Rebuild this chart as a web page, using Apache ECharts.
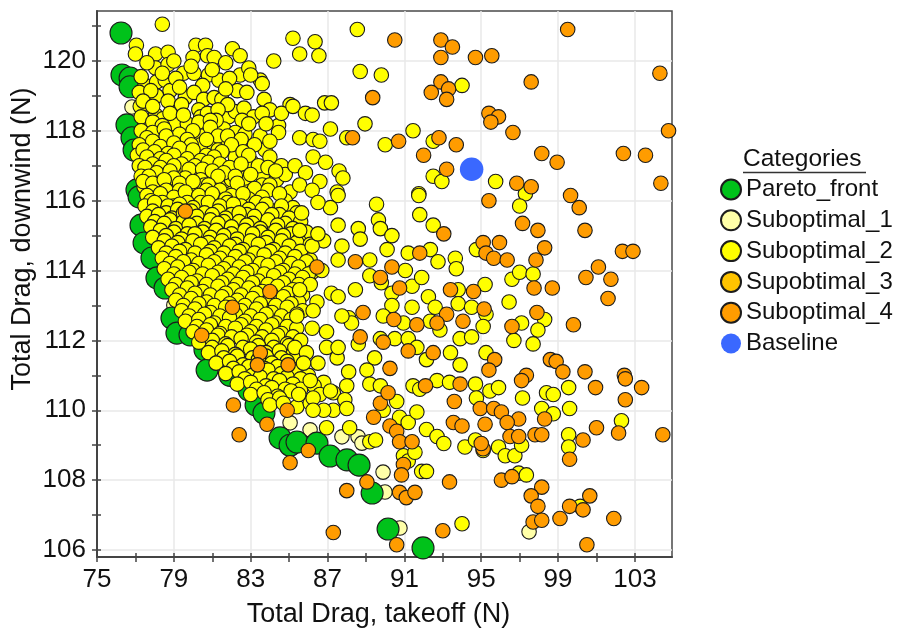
<!DOCTYPE html>
<html>
<head>
<meta charset="utf-8">
<script src="https://cdn.jsdelivr.net/npm/echarts@6/dist/echarts.min.js"></script>
<style>
  html, body { margin: 0; padding: 0; background: #fff; }
  #chart { width: 897px; height: 630px; }
</style>
</head>
<body>
<div id="chart"></div>
<script>
// Axis ticks and labels
const xTickValues = [75, 77, 79, 81, 83, 85, 87, 89, 91, 93, 95, 97, 99, 101, 103];
const xLabelValues = [75, 79, 83, 87, 91, 95, 99, 103];
const yTickValues = [106, 107, 108, 109, 110, 111, 112, 113, 114, 115, 116, 117, 118, 119, 120, 121];
const yLabelValues = [106, 108, 110, 112, 114, 116, 118, 120];

const xTitle = 'Total Drag, takeoff (N)';
const yTitle = 'Total Drag, downwind (N)';
const legendTitle = 'Categories';

// Legend order
const categories = ['Pareto_front', 'Suboptimal_1', 'Suboptimal_2', 'Supobtimal_3', 'Suboptimal_4', 'Baseline'];

// [takeoff drag, downwind drag]
const paretoFront = [
  [76.25,120.8],[76.3,119.6],[76.72,119.51],[76.72,119.26],[76.56,118.17],[76.82,117.8],[76.93,117.45],
  [77.08,116.31],[77.19,116.11],[77.29,115.3],[77.45,114.79],[77.86,114.36],[78.12,113.79],[78.54,113.5],
  [78.9,112.64],[79.16,112.21],[79.84,112.16],[80.62,111.73],[80.73,111.15],[81.92,111.0],[82.91,110.58],
  [83.28,110.15],[83.69,109.92],[84.53,109.21],[85.05,109.0],[85.41,109.09],[86.45,109.06],[87.13,108.69],
  [88.01,108.58],[88.64,108.43],[89.32,107.63],[90.15,106.6],[91.97,106.06]
];

const suboptimal1 = [
  [76.82,118.68],[76.93,118.11],[79.0,113.01],[79.53,112.24],[80.83,111.87],[82.13,111.3],[83.59,110.44],
  [85.05,109.64],[86.09,109.44],[87.75,109.24],[88.59,109.24],[88.79,109.06],[89.89,108.23],[89.99,107.66],
  [90.41,106.63],[90.77,106.63],[97.49,106.52]
];

const suboptimal2 = [
  // upper-left cloud
  [78.4,121.05],[77.05,120.45],[77.0,120.2],[78.05,120.2],[78.7,120.25],[80.15,120.45],[80.65,120.45],
  [80.0,120.1],[80.75,120.15],[81.1,120.1],[82.05,120.35],[82.45,120.15],[84.2,120.0],[78.05,119.8],
  [78.7,119.9],[79.5,119.65],[80.05,119.65],[80.8,119.6],[81.35,119.45],[80.5,119.3],[82.45,119.6],
  [83.5,119.45],[83.6,119.35],[82.3,119.15],[77.5,119.3],[78.1,119.4],[78.55,119.45],[78.8,119.15],
  [78.1,119.0],[77.25,118.7],[78.05,118.45],[78.45,118.35],[79.15,118.6],[79.6,118.95],[80.05,119.1],
  [80.55,118.9],[81.1,118.95],[81.5,118.9],[80.3,118.6],[80.4,118.4],[80.75,118.5],[81.85,118.4],
  [82.2,118.55],[82.65,118.65],[83.15,118.4],[82.55,118.3],[81.6,118.05],[82.2,117.95],[82.7,117.9],
  [83.5,117.85],[84.45,118.15],[84.45,117.95],[85.05,118.75],[79.0,118.2],[79.7,118.2],[77.6,118.15],
  [77.5,117.85],[77.75,117.55],[78.65,117.7],[79.4,117.8],[80.4,117.85],[81.0,117.55],[81.6,117.65],
  [79.7,117.45],[80.2,117.3],[79.1,117.15],[78.2,117.25],[77.6,117.1],[82.2,117.25],[82.65,116.9],
  [83.05,117.1],[83.75,117.45],[84.0,117.25],[83.6,116.7],[84.35,116.6],[82.65,116.45],[81.95,116.3],
  [81.6,116.55],[80.75,116.75],[80.05,116.8],[79.15,116.8],[78.4,116.75],[77.75,116.9],[77.45,116.4],
  [78.1,116.4],[78.75,116.45],[79.75,116.45],[80.45,116.35],[81.1,116.5],[85.05,116.25],
  [77.6,119.95],[79.0,120.0],[79.9,119.85],[81.7,119.95],[82.9,119.8],
  [77.3,119.55],[78.4,119.65],[79.1,119.5],[81.0,119.75],[81.9,119.5],[83.0,119.6],
  [77.2,119.1],[77.8,119.15],[79.3,119.25],[81.7,119.2],[82.8,119.1],
  [77.4,118.85],[77.9,118.7],[78.7,118.85],[79.4,118.75],[81.8,118.75],[83.7,118.9],[84.0,118.6],
  [77.3,118.4],[78.8,118.5],[79.5,118.45],[81.3,118.6],[81.2,118.3],[83.6,118.5],[84.6,118.5],
  [77.9,118.25],[78.4,118.15],[80.3,118.25],[80.9,118.3],[82.9,118.2],[83.8,118.2],
  // dense core
  [77.3,118.0],[77.9,117.95],[78.5,118.05],[79.3,117.9],[80.0,118.0],[80.9,118.1],[81.3,117.85],
  [77.6,117.8],[78.6,117.85],[79.7,117.75],[80.4,117.6],[81.8,117.85],[82.5,117.75],[83.2,117.6],[84.0,117.7],
  [77.2,117.6],[77.9,117.7],[78.3,117.55],[79.0,117.65],[79.9,117.6],[80.7,117.75],[81.3,117.45],[82.0,117.6],
  [77.1,117.3],[77.4,117.45],[78.0,117.4],[78.7,117.35],[79.3,117.5],[80.0,117.45],[80.7,117.3],[81.5,117.4],[82.6,117.4],
  [77.6,117.25],[78.3,117.2],[79.0,117.3],[79.7,117.2],[80.4,117.15],[81.1,117.25],[82.9,117.3],[83.4,117.0],[84.6,117.0],
  [77.2,117.0],[77.9,117.05],[78.6,117.15],[79.4,117.05],[80.1,117.0],[80.8,117.1],[81.4,117.05],[81.9,116.95],[82.5,117.05],
  [77.5,116.95],[78.3,116.95],[79.0,117.0],[79.8,116.9],[80.5,116.9],[82.0,116.6],[82.7,116.65],[83.9,116.95],[84.8,116.75],
  [77.3,116.7],[78.1,116.8],[78.8,116.85],[79.6,116.65],[80.4,116.6],[81.0,116.85],[81.6,116.8],[82.2,116.7],[83.0,116.75],
  [77.7,116.7],[78.4,116.55],[79.0,116.65],[79.9,116.35],[80.6,116.45],[81.3,116.7],[83.6,116.45],[84.3,116.85],
  [77.4,116.55],[77.9,116.5],[78.5,116.6],[79.3,116.5],[80.0,116.55],[80.8,116.45],[81.4,116.3],[82.3,116.5],[83.2,116.35],[84.0,116.45],
  [77.9,116.25],[78.6,116.3],[79.3,116.3],[80.0,116.0],[80.7,116.3],[81.2,116.05],[82.0,116.15],[82.9,116.05],[83.9,116.3],[84.8,116.0],
  [77.6,116.15],[78.3,116.2],[79.0,116.1],[79.6,116.25],[80.3,116.15],[81.0,116.2],[81.7,116.05],[82.6,116.2],[83.6,116.1],[84.5,116.2],
  [77.8,116.0],[78.4,115.95],[79.0,115.85],[79.7,115.95],[80.4,115.95],[81.1,115.8],[81.8,115.95],[82.5,115.85],[83.3,115.95],[84.2,115.7],[85.2,115.8],
  [77.5,115.85],[78.0,115.95],[78.7,115.85],[79.3,115.9],[80.0,115.8],[80.8,115.95],[81.4,115.85],[82.1,115.9],[82.9,115.75],[83.8,115.9],[84.6,115.85],
  [77.9,115.7],[78.6,115.65],[79.2,115.75],[79.9,115.7],[80.6,115.65],[81.3,115.7],[82.0,115.6],[82.8,115.6],[83.6,115.75],[84.5,115.6],[85.4,115.65],
  [77.6,115.55],[78.2,115.6],[78.9,115.5],[79.5,115.65],[80.2,115.55],[81.0,115.6],[81.7,115.5],[82.4,115.65],[83.2,115.55],[84.1,115.6],[85.0,115.5],
  [78.0,115.4],[78.8,115.45],[79.5,115.4],[80.2,115.35],[80.9,115.45],[81.6,115.4],[82.4,115.4],[83.1,115.35],[83.9,115.45],[84.8,115.35],[85.6,115.4],
  [77.8,115.25],[78.5,115.35],[79.1,115.2],[79.8,115.3],[80.6,115.2],[81.3,115.35],[82.0,115.25],[82.8,115.3],[83.5,115.2],[84.4,115.3],[85.2,115.2],
  [78.3,115.15],[79.0,115.1],[79.7,115.05],[80.5,115.1],[81.2,115.15],[82.0,115.05],[82.7,115.15],[83.5,115.1],[84.3,115.15],[85.1,115.05],[85.9,115.1],
  [77.9,114.95],[78.6,115.0],[79.4,114.9],[80.1,115.05],[80.9,114.95],[81.6,115.0],[82.3,114.9],[83.1,115.05],[83.9,114.95],[84.7,115.0],[85.5,114.85],
  [78.5,114.85],[79.2,114.8],[80.0,114.85],[80.8,114.8],[81.5,114.85],[82.2,114.75],[83.0,114.85],[83.8,114.8],[84.6,114.85],[85.4,114.8],[86.1,114.75],
  [78.2,114.65],[78.9,114.7],[79.6,114.6],[80.4,114.75],[81.1,114.65],[81.9,114.7],[82.6,114.6],[83.4,114.75],[84.2,114.6],[85.0,114.7],[85.8,114.5],
  [78.6,114.5],[79.3,114.55],[80.1,114.5],[80.9,114.55],[81.6,114.5],[82.4,114.55],[83.2,114.5],[84.0,114.55],[84.8,114.5],[85.6,114.55],
  [78.4,114.35],[79.1,114.4],[79.9,114.3],[80.7,114.45],[81.4,114.35],[82.2,114.4],[82.9,114.3],[83.7,114.45],[84.5,114.35],[85.3,114.4],[86.1,114.3],
  [78.8,114.2],[79.5,114.25],[80.3,114.2],[81.1,114.25],[81.9,114.2],[82.7,114.25],[83.5,114.2],[84.3,114.25],[85.1,114.2],[85.9,114.25],
  [78.5,114.05],[79.2,114.1],[80.0,114.0],[80.8,114.15],[81.6,114.05],[82.4,114.1],[83.1,114.0],[83.9,114.15],[84.7,114.0],[85.5,114.1],[86.2,113.95],
  [79.0,113.9],[79.8,113.95],[80.5,113.9],[81.3,113.95],[82.1,113.9],[82.8,113.95],[83.7,113.9],[84.5,113.95],[85.3,113.9],[86.0,113.9],
  [78.7,113.75],[79.4,113.8],[80.2,113.7],[81.0,113.85],[81.8,113.75],[82.6,113.8],[83.4,113.7],[84.2,113.85],[85.0,113.75],[85.7,113.8],
  [79.1,113.6],[79.9,113.65],[80.7,113.6],[81.5,113.65],[82.3,113.6],[83.1,113.65],[83.9,113.6],[84.7,113.65],[85.5,113.6],
  [78.9,113.45],[79.7,113.5],[80.5,113.4],[81.3,113.55],[82.1,113.45],[82.9,113.5],[83.6,113.4],[84.4,113.55],[85.2,113.45],
  [79.3,113.3],[80.1,113.35],[80.9,113.3],[81.7,113.35],[82.5,113.3],[83.3,113.35],[84.1,113.3],[84.9,113.35],[85.7,113.3],
  [79.1,113.15],[79.9,113.2],[80.7,113.1],[81.5,113.25],[82.3,113.15],[83.1,113.2],[83.9,113.1],[84.7,113.25],[85.5,113.1],
  [79.5,113.0],[80.3,113.05],[81.1,113.0],[81.9,113.05],[82.7,113.0],[83.5,113.05],[84.3,113.0],[85.1,113.05],
  [79.4,112.85],[80.1,112.9],[80.9,112.8],[81.7,112.95],[82.5,112.85],[83.3,112.9],[84.1,112.8],[84.9,112.95],[85.7,112.85],
  [79.8,112.7],[80.6,112.75],[81.4,112.7],[82.2,112.75],[83.0,112.7],[83.8,112.75],[84.6,112.7],[85.4,112.75],
  [79.6,112.55],[80.3,112.6],[81.1,112.5],[81.9,112.65],[82.7,112.55],[83.5,112.6],[84.3,112.5],[85.1,112.6],
  [80.2,112.4],[80.9,112.45],[81.7,112.4],[82.5,112.45],[83.3,112.4],[84.1,112.45],[84.9,112.4],
  [80.0,112.25],[80.7,112.3],[81.4,112.2],[82.2,112.35],[83.0,112.25],[83.8,112.3],[84.6,112.2],[85.4,112.35],
  [80.5,112.1],[81.3,112.15],[82.0,112.1],[82.8,112.15],[83.6,112.1],[84.4,112.15],[85.2,112.1],
  [80.3,111.95],[81.0,112.0],[81.7,111.9],[82.5,112.05],[83.3,111.95],[84.1,112.0],[84.9,111.9],[85.6,112.0],
  [81.0,111.8],[81.8,111.85],[82.6,111.8],[83.4,111.85],[84.2,111.8],[85.0,111.85],
  [80.8,111.65],[81.5,111.7],[82.2,111.6],[83.0,111.75],[83.8,111.65],[84.5,111.7],[85.2,111.6],
  [81.6,111.5],[82.3,111.55],[83.1,111.5],[83.8,111.55],[84.6,111.5],[85.4,111.55],
  [81.2,111.35],[81.9,111.4],[82.6,111.3],[83.4,111.45],[84.1,111.35],[84.9,111.4],
  [82.1,111.2],[82.9,111.25],[83.7,111.2],[84.4,111.25],[85.1,111.2],
  [81.7,111.05],[82.4,111.1],[83.1,111.0],[83.9,111.15],[84.6,111.05],[85.3,111.1],[86.0,111.0],
  [82.7,110.9],[83.5,110.95],[84.2,110.9],[84.9,110.95],[85.6,110.9],
  [82.3,110.75],[83.0,110.8],[83.8,110.7],[84.5,110.85],[85.2,110.75],[86.8,110.8],
  [83.3,110.6],[84.1,110.65],[84.8,110.6],[85.6,110.6],[86.3,110.7],
  [83.0,110.45],[83.7,110.5],[84.4,110.4],[85.1,110.55],[86.6,110.45],[87.3,110.5],
  [83.9,110.3],[84.5,110.35],
  [84.0,110.15],[84.7,110.2],[85.4,110.1],[86.1,110.2],
  // middle band
  [85.2,120.65],[85.55,120.2],[86.35,120.55],[86.55,120.15],[88.55,120.9],[88.7,119.7],[89.8,119.6],[94.0,119.3],
  [85.2,118.7],[85.85,118.5],[86.2,118.45],[86.85,118.8],[87.2,118.8],[88.95,118.2],[87.15,118.05],[88.0,117.8],
  [85.55,117.8],[86.25,117.75],[86.6,117.7],[90.0,117.6],[91.45,118.0],[92.5,117.7],[85.3,117.0],[85.85,116.8],
  [86.25,117.25],[86.9,117.1],[87.6,116.85],[87.8,116.65],[86.6,116.55],[85.55,116.45],[86.2,116.3],[87.5,116.25],
  [91.75,116.2],[92.5,116.7],[92.95,116.55],[95.75,116.55],[97.3,116.2],[97.0,115.85],[94.95,114.6],[95.2,113.6],
  [96.6,113.75],[97.0,113.95],[97.7,113.9],[96.45,113.1],[95.25,112.75],[95.1,112.4],[97.1,112.5],[98.3,112.6],
  [97.95,112.3],[96.7,112.0],[97.7,111.9],[95.25,111.65],
  [91.75,116.15],[91.8,115.6],[92.5,115.3],[89.55,115.9],[89.65,115.45],[89.75,115.2],[90.35,115.0],[90.1,114.6],
  [91.2,114.5],[92.35,114.6],[92.75,114.25],[93.65,114.35],[93.7,114.05],[94.75,114.6],[89.2,114.3],[89.2,113.85],
  [89.8,113.65],[91.05,114.0],[91.4,113.55],[91.9,113.8],[90.35,113.35],[90.35,113.0],[91.4,112.95],[92.25,113.25],
  [92.6,112.95],[93.8,113.45],[93.8,113.05],[94.5,112.95],[88.45,113.45],[87.2,113.35],[87.55,113.25],[88.1,112.65],
  [88.25,112.5],[87.75,112.7],[89.9,112.7],[90.95,112.5],[92.35,112.55],[92.85,112.3],[93.9,112.05],[94.5,112.1],
  [93.4,111.65],[89.75,112.05],[90.5,112.05],[91.2,112.05],[91.65,111.8],[92.15,111.45],[93.9,111.3],[88.6,111.9],
  [89.45,111.5],[89.05,111.15],[88.1,111.1],[87.5,111.5],[86.95,111.8],[87.55,111.8],[86.2,112.35],[86.95,112.25],
  [86.45,113.1],[86.25,112.85],[85.4,112.7],[85.3,111.8],[85.9,111.65],[86.5,111.35],[85.75,111.35],
  [87.55,116.15],[87.15,115.8],[87.55,115.3],[88.6,115.2],[88.7,114.9],[87.75,114.7],[86.8,114.85],[86.2,114.7],
  [85.55,115.15],[86.5,115.05],[86.5,115.95],[85.65,115.65],[87.55,114.3],[86.7,114.0],[86.1,113.6],[85.55,113.45],
  // lower band
  [86.1,110.85],[85.5,110.45],[86.25,110.35],[87.15,110.55],[88.0,110.7],[87.9,110.3],[87.3,110.0],[88.0,110.05],
  [86.8,110.0],[86.25,110.0],[86.95,109.5],[88.15,109.5],[89.2,110.75],[89.75,110.7],[89.2,109.1],[89.5,109.15],
  [89.9,110.0],[90.6,110.25],[90.75,109.8],[91.2,109.65],[91.65,109.95],[91.45,110.7],[91.8,110.6],[92.7,110.85],
  [93.35,110.8],[92.15,109.45],[92.7,109.25],[93.05,109.05],[90.95,108.7],[91.2,108.55],[91.55,108.8],[91.9,108.25],
  [92.15,108.25],[94.0,106.75],[94.7,110.75],[94.75,110.35],[94.15,108.95],[94.7,109.15],[95.1,108.85],
  [95.45,110.55],[95.9,110.65],[97.15,110.35],[98.4,110.5],[98.75,110.45],[99.55,110.65],[98.15,110.05],[98.75,109.9],
  [99.6,110.05],[99.55,109.3],[99.55,108.95],[102.3,109.7],[95.9,108.95],[96.25,108.7],[96.75,108.7],[97.1,109.0],
  [96.95,108.2],[97.35,108.15],[100.15,107.25]
];

const supobtimal3 = [];

const suboptimal4 = [
  [90.5,120.6],[92.9,120.6],[93.5,120.4],[92.9,120.1],[94.7,120.1],[92.9,119.4],[92.4,119.1],[93.3,119.2],
  [93.2,118.9],[89.35,118.95],[88.3,117.8],[90.7,117.7],[92.8,117.8],[93.7,117.6],[92.0,117.3],[93.2,116.9],
  [99.5,120.9],[95.55,120.15],[97.6,119.4],[104.3,119.65],[95.4,118.5],[95.9,118.4],[95.5,118.25],[96.65,117.95],
  [104.75,118.0],[98.15,117.35],[98.95,117.1],[102.4,117.35],[103.55,117.3],[104.35,116.5],[96.85,116.5],[97.6,116.4],
  [99.65,116.15],[95.4,116.0],[100.1,115.8],[97.15,115.35],[97.95,115.15],[100.4,115.15],[95.1,114.8],[95.95,114.8],
  [95.25,114.5],[95.65,114.35],[96.35,114.3],[98.3,114.65],[97.85,114.3],[102.35,114.55],[102.9,114.55],[101.1,114.1],
  [100.45,113.8],[101.75,113.75],[97.75,113.5],[98.7,113.5],[101.6,113.2],[97.9,112.8],[96.6,112.4],[99.8,112.45],
  [95.15,112.9],[98.6,111.45],[98.9,111.4],[95.7,111.45],[95.4,111.15],[99.25,111.1],[100.4,111.1],[97.35,111.0],
  [102.45,111.0],[97.1,110.85],[102.5,110.9],[100.95,110.65],[103.35,110.65],[102.5,110.3],[94.95,110.05],[95.65,110.05],
  [96.05,109.95],[96.95,109.75],[95.2,109.6],[96.35,109.65],[96.5,109.25],[96.95,109.25],[97.8,109.3],[98.15,109.3],
  [98.3,109.75],[95.1,108.9],[100.3,109.15],[101.0,109.5],[102.15,109.35],[104.45,109.3],[99.6,108.6],[96.05,108.0],
  [96.6,108.1],[98.15,107.8],[97.6,107.55],[97.95,107.25],[100.65,107.55],[99.6,107.25],[100.3,107.15],[97.7,106.8],
  [98.15,106.85],[99.1,106.9],[101.9,106.9],[100.5,106.15],[85.05,108.5],[86.0,108.85],[87.3,106.5],[88.0,107.7],
  [89.05,107.95],[89.4,109.8],[90.25,109.55],[90.6,109.4],[90.75,109.1],[91.4,109.1],[90.95,108.45],[90.85,108.15],
  [90.75,107.65],[91.1,107.5],[91.55,107.65],[90.6,106.15],[93.0,106.55],[93.35,107.95],[93.6,110.25],[93.55,109.65],
  [94.0,109.55],[93.9,110.75],[89.75,110.2],[92.1,110.7],[90.15,110.5],[82.1,110.15],[82.4,109.3],[83.85,109.6],
  [84.9,110.0],[93.05,115.05],[91.8,114.5],[88.45,114.25],[90.35,114.1],[89.75,113.8],[90.75,113.5],[93.4,113.45],
  [94.6,113.4],[88.85,112.8],[90.45,112.6],[91.65,112.45],[93.2,112.75],[94.05,112.55],[92.7,112.5],[88.7,112.1],
  [89.9,111.95],[91.2,111.7],[92.5,111.65],[90.25,111.2],[86.45,114.1],[82.05,112.95],[79.6,115.7],[84.0,113.4],
  [83.5,111.65],[83.35,111.3],[84.95,111.3],[80.45,112.15],[95.0,109.05]
];

const baseline = [[94.5, 116.9]];

const borderColor = '#1c1c1c';
const labelFont = 'Liberation Sans, Arial, sans-serif';

function scatter(name, data, color, size, withBorder) {
  return {
    name: name,
    type: 'scatter',
    data: data,
    symbol: 'circle',
    symbolSize: size,
    itemStyle: {
      color: color,
      borderColor: withBorder ? borderColor : color,
      borderWidth: withBorder ? 1.1 : 0,
      opacity: 1
    },
    emphasis: { disabled: true },
    xAxisIndex: 0,
    yAxisIndex: 0
  };
}

const xRange = { min: 75, max: 104.93 };
const yRange = { min: 105.8, max: 121.43 };
const tickStyle = { color: '#444', width: 1.5 };

const chart = echarts.init(document.getElementById('chart'), null, { renderer: 'canvas' });

chart.setOption({
  animation: false,
  backgroundColor: '#ffffff',
  textStyle: { fontFamily: labelFont },
  grid: {
    left: 97, top: 11, right: 225, bottom: 73,
    show: true, borderColor: '#4a4a4a', borderWidth: 1.5, backgroundColor: 'transparent'
  },
  xAxis: [
    {
      type: 'value', ...xRange, position: 'bottom',
      axisLine: { show: true, onZero: false, lineStyle: { color: '#444', width: 2 } },
      axisTick: { show: true, inside: false, length: 5, customValues: xTickValues, lineStyle: tickStyle },
      axisLabel: { show: true, customValues: xLabelValues, fontSize: 26, color: '#111', margin: 10, fontFamily: labelFont },
      splitLine: { show: false }
    },
    {
      type: 'value', ...xRange, position: 'bottom',
      axisLine: { show: false },
      axisTick: { show: true, inside: true, length: 4, customValues: xTickValues, lineStyle: tickStyle },
      axisLabel: { show: false },
      splitLine: { show: false }
    },
    {
      type: 'value', ...xRange, position: 'bottom',
      axisLine: { show: false },
      axisTick: { show: false, customValues: xLabelValues },
      axisLabel: { show: false },
      splitLine: { show: true, lineStyle: { color: '#e8e8e8', width: 1.5 } }
    }
  ],
  yAxis: [
    {
      type: 'value', ...yRange, position: 'left',
      axisLine: { show: true, onZero: false, lineStyle: { color: '#444', width: 2 } },
      axisTick: { show: true, inside: false, length: 5, customValues: yTickValues, lineStyle: tickStyle },
      axisLabel: { show: true, customValues: yLabelValues, fontSize: 26, color: '#111', margin: 11, fontFamily: labelFont },
      splitLine: { show: false }
    },
    {
      type: 'value', ...yRange, position: 'left',
      axisLine: { show: false },
      axisTick: { show: true, inside: true, length: 4, customValues: yTickValues, lineStyle: tickStyle },
      axisLabel: { show: false },
      splitLine: { show: false }
    },
    {
      type: 'value', ...yRange, position: 'left',
      axisLine: { show: false },
      axisTick: { show: false, customValues: yLabelValues },
      axisLabel: { show: false },
      splitLine: { show: true, lineStyle: { color: '#e8e8e8', width: 1.5 } }
    }
  ],
  legend: {
    data: categories,
    orient: 'vertical',
    left: 715, top: 172.5,
    itemWidth: 20, itemHeight: 20, itemGap: 6.8,
    icon: 'circle',
    selectedMode: false,
    textStyle: { fontSize: 24, color: '#111', fontFamily: labelFont }
  },
  graphic: [
    {
      type: 'text', x: 378.5, y: 615,
      style: { text: xTitle, fontSize: 27, fill: '#111', fontFamily: labelFont, align: 'center', verticalAlign: 'middle' }
    },
    {
      type: 'text', x: 23, y: 239, rotation: Math.PI / 2,
      style: { text: yTitle, fontSize: 27, fill: '#111', fontFamily: labelFont, align: 'center', verticalAlign: 'middle' }
    },
    {
      type: 'text', left: 743, top: 147,
      style: { text: legendTitle, fontSize: 24.5, fill: '#111', fontFamily: labelFont }
    },
    {
      type: 'line', shape: { x1: 743, y1: 172.5, x2: 866, y2: 172.5 },
      style: { stroke: '#333', lineWidth: 1.5 }
    }
  ],
  series: [
    scatter('Suboptimal_1', suboptimal1, '#ffffa8', 14.5, true),
    scatter('Pareto_front', paretoFront, '#00c21a', 22, true),
    scatter('Suboptimal_2', suboptimal2, '#ffff00', 14.5, true),
    scatter('Supobtimal_3', supobtimal3, '#ffc400', 14.5, true),
    scatter('Suboptimal_4', suboptimal4, '#ff9c00', 14.5, true),
    scatter('Baseline', baseline, '#3a68ff', 23.5, false)
  ]
});
</script>
</body>
</html>
